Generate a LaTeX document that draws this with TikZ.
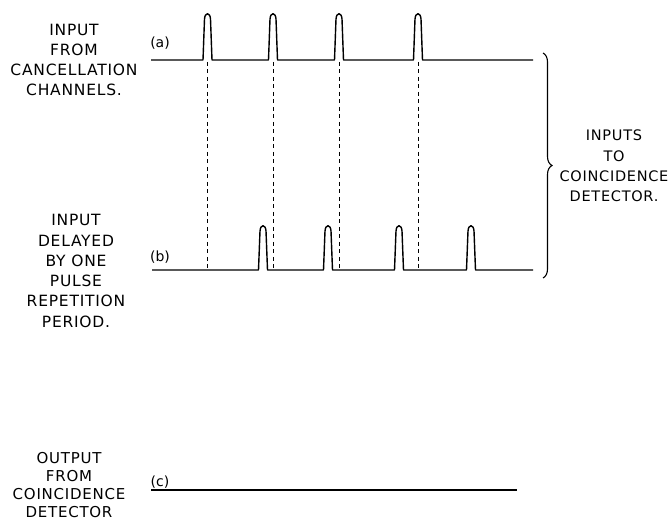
\documentclass[tikz,border=0pt]{standalone}
\usepackage{fontspec}
\setmainfont{DejaVu Sans}
\newfontfamily\lblfont[LetterSpace=5]{DejaVu Sans}
\usetikzlibrary{decorations.pathreplacing}
\newcommand\pulsepk[3]{-- (#1-4.5,#2) -- (#1-3,#3+7) .. controls (#1-2.5,#3) and (#1+2.5,#3) .. (#1+3,#3+7) -- (#1+4.5,#2)}
\begin{document}
\begin{tikzpicture}[x=1pt,y=-1pt,
  wave/.style={line width=1.4pt,line join=round},
  guide/.style={line width=0.9pt,dash pattern=on 4pt off 3.5pt},
  lbl/.style={font=\lblfont\fontsize{15.5}{20.3}\selectfont,align=center,inner sep=0pt},
  tag/.style={font=\fontsize{14}{16}\selectfont,inner sep=0pt}]
\useasboundingbox (0,0) rectangle (672,521);
% labels
\node[lbl] (la) at (74,60) {INPUT\\FROM\\CANCELLATION\\CHANNELS.};
\node[lbl] (lb) at (76,271) {INPUT\\DELAYED\\BY ONE\\PULSE\\REPETITION\\PERIOD.};
\node[lbl,font=\lblfont\fontsize{15}{18.2}\selectfont] (lc) at (69,485) {OUTPUT\\FROM\\COINCIDENCE\\DETECTOR};
\node[lbl,font=\lblfont\fontsize{14.5}{20.3}\selectfont] (lr) at (614,166) {INPUTS\\TO\\COINCIDENCE\\DETECTOR.};
\node[tag] (ta) at (160,43) {(a)};
\node[tag] (tb) at (160,257) {(b)};
\node[tag] (tc) at (160,482) {(c)};
% coordinates
\coordinate (a0) at (151,60); \coordinate (a9) at (533,60);
\coordinate (b0) at (152,270); \coordinate (b9) at (533,270);
\coordinate (c0) at (151,490); \coordinate (c9) at (517,490);
\foreach \n/\x in {1/207.5,2/273,3/339,4/418}{
  \coordinate (pa\n) at (\x,62);
  \coordinate (qb\n) at (\x,270);
}
% waveform (a)
\draw[wave] (a0) \pulsepk{207.5}{60}{12} \pulsepk{273}{60}{12} \pulsepk{339}{60}{12} \pulsepk{418}{60}{12} -- (a9);
% waveform (b)
\draw[wave] (b0) \pulsepk{263}{270}{224} \pulsepk{328}{270}{224} \pulsepk{399}{270}{224} \pulsepk{471}{270}{224} -- (b9);
% waveform (c)
\draw[wave] (c0) -- (c9);
% dashed guides
\foreach \n in {1,2,3,4}{\draw[guide] (pa\n) -- (qb\n);}
% brace
\coordinate (bt) at (543,53); \coordinate (bb) at (543,278);
\draw[line width=1.1pt,decorate,decoration={brace,amplitude=9pt}] (bt) -- (bb);
\end{tikzpicture}
\end{document}
